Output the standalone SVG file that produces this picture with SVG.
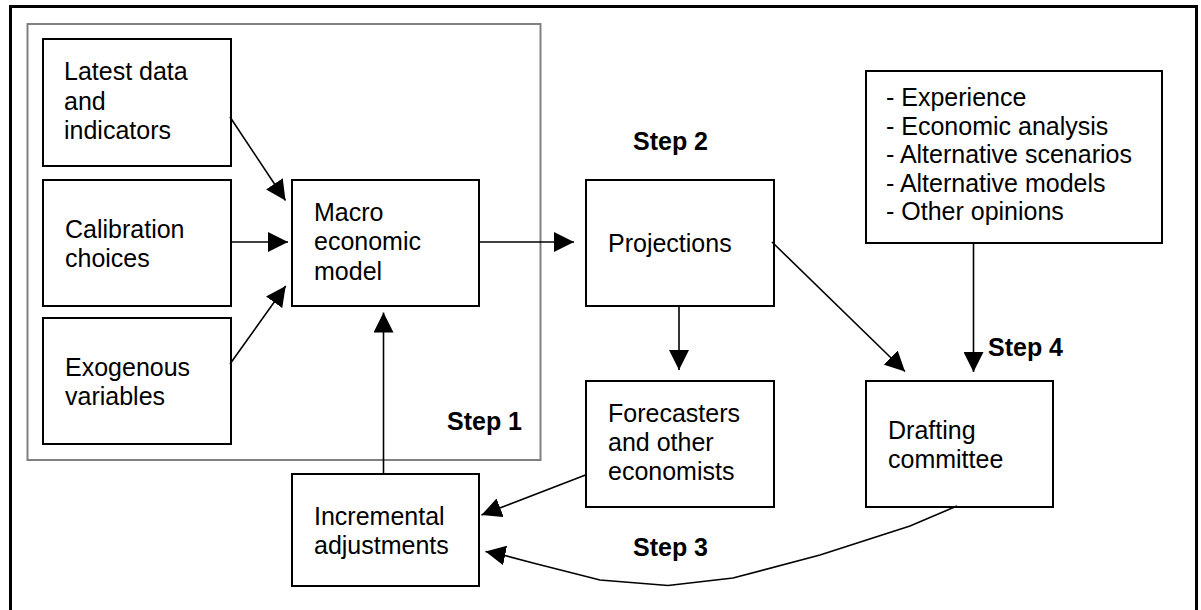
<svg xmlns="http://www.w3.org/2000/svg" width="1201" height="610" viewBox="0 0 1201 610">
<style>
.box{fill:#fff;stroke:#000;stroke-width:2}
.t{font-family:"Liberation Sans",Arial,sans-serif;font-size:25px;fill:#000}
.b{font-family:"Liberation Sans",Arial,sans-serif;font-size:25px;font-weight:bold;fill:#000}
.c{fill:none;stroke:#000;stroke-width:1.6}
</style>
<defs>
<marker id="ah" markerUnits="userSpaceOnUse" markerWidth="20" markerHeight="20" viewBox="0 0 20 20" refX="20" refY="10" orient="auto">
<path d="M0,0 L20,10 L0,20 z" fill="#000"/>
</marker>
</defs>
<rect x="0" y="0" width="1201" height="610" fill="#fff"/>
<rect id="frame" x="10.5" y="6.5" width="1186" height="630" fill="none" stroke="#000" stroke-width="3"/>
<rect id="step1-area" x="27.5" y="24" width="513" height="436" fill="none" stroke="#808080" stroke-width="2"/>

<g id="latest">
<rect class="box" x="43" y="39" width="188" height="127"/>
<text class="t" x="64" y="80">Latest data</text>
<text class="t" x="64" y="109.5">and</text>
<text class="t" x="64" y="139">indicators</text>
</g>
<g id="calibration">
<rect class="box" x="43" y="180" width="188" height="126"/>
<text class="t" x="65" y="238">Calibration</text>
<text class="t" x="65" y="267">choices</text>
</g>
<g id="exogenous">
<rect class="box" x="43" y="318" width="188" height="126"/>
<text class="t" x="65" y="376">Exogenous</text>
<text class="t" x="65" y="405">variables</text>
</g>
<g id="macro">
<rect class="box" x="292" y="180" width="187" height="126"/>
<text class="t" x="314" y="220.5">Macro</text>
<text class="t" x="314" y="250">economic</text>
<text class="t" x="314" y="280">model</text>
</g>
<g id="projections">
<rect class="box" x="586" y="180" width="188" height="126"/>
<text class="t" x="608" y="251.5">Projections</text>
</g>
<g id="forecasters">
<rect class="box" x="586" y="381" width="188" height="126"/>
<text class="t" x="608" y="421.5">Forecasters</text>
<text class="t" x="608" y="450.5">and other</text>
<text class="t" x="608" y="480">economists</text>
</g>
<g id="drafting">
<rect class="box" x="866" y="381" width="187" height="126"/>
<text class="t" x="888" y="438.5">Drafting</text>
<text class="t" x="888" y="468">committee</text>
</g>
<g id="inputs">
<rect class="box" x="866" y="71" width="296" height="172"/>
<text class="t" x="886" y="106">- Experience</text>
<text class="t" x="886" y="134.5">- Economic analysis</text>
<text class="t" x="886" y="163">- Alternative scenarios</text>
<text class="t" x="886" y="191.5">- Alternative models</text>
<text class="t" x="886" y="220">- Other opinions</text>
</g>
<g id="incremental">
<rect class="box" x="292" y="474" width="187" height="112"/>
<text class="t" x="314" y="525">Incremental</text>
<text class="t" x="314" y="554">adjustments</text>
</g>

<g id="labels">
<text class="b" x="633" y="150">Step 2</text>
<text class="b" x="447" y="430">Step 1</text>
<text class="b" x="633" y="556">Step 3</text>
<text class="b" x="988" y="356">Step 4</text>
</g>

<g id="connectors">
<line class="c" x1="230" y1="117" x2="285.5" y2="200.5" marker-end="url(#ah)"/>
<line class="c" x1="230" y1="242" x2="288" y2="242" marker-end="url(#ah)"/>
<line class="c" x1="230" y1="364" x2="285.7" y2="286" marker-end="url(#ah)"/>
<line class="c" x1="478" y1="242" x2="574" y2="242" marker-end="url(#ah)"/>
<line class="c" x1="679" y1="306" x2="679" y2="370" marker-end="url(#ah)"/>
<line class="c" x1="772" y1="242" x2="905" y2="371.5" marker-end="url(#ah)"/>
<line class="c" x1="973.5" y1="243" x2="973.5" y2="372" marker-end="url(#ah)"/>
<line class="c" x1="383.5" y1="474" x2="383.5" y2="312.5" marker-end="url(#ah)"/>
<line class="c" x1="585.5" y1="475" x2="481.5" y2="515" marker-end="url(#ah)"/>
<path class="c" d="M957,506 L910,526 L820,555 L733,578 L668,585.5 L600,580 L533,563 L503,555 L485.5,551.5" marker-end="url(#ah)"/>
</g>
</svg>
